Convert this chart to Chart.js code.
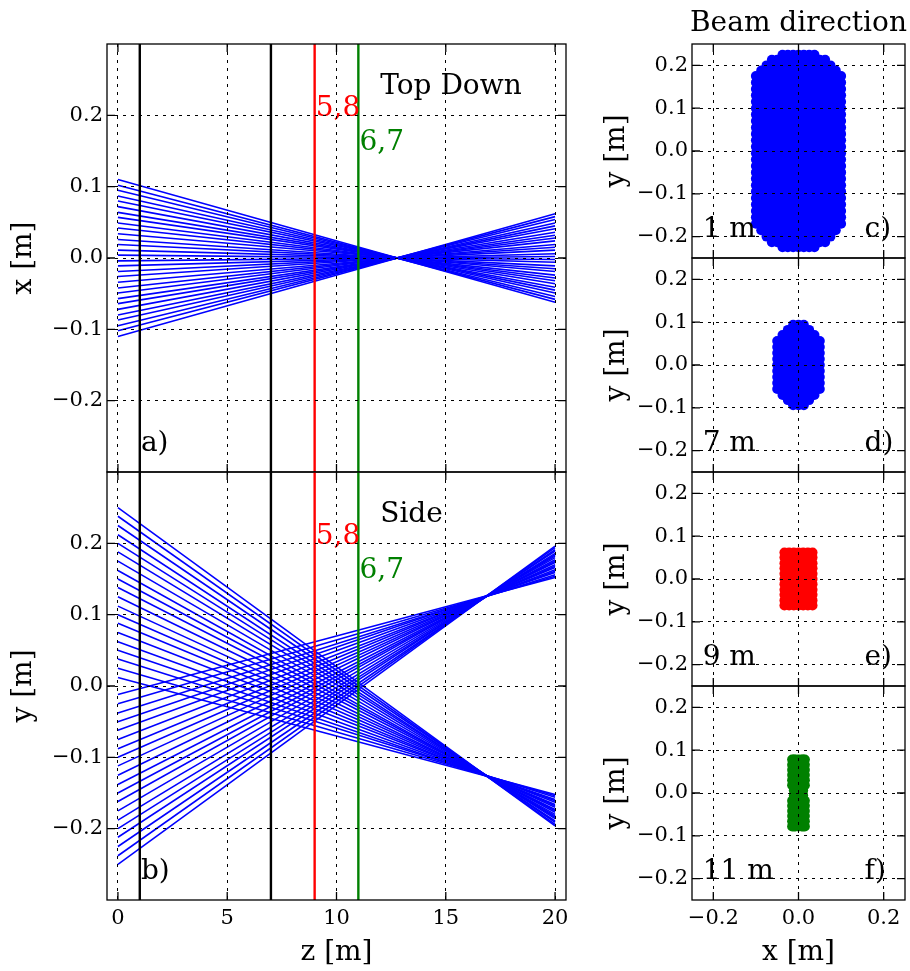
<!DOCTYPE html>
<html>
<head>
<meta charset="utf-8">
<script src="https://cdn.jsdelivr.net/npm/chart.js@4.4.0/dist/chart.umd.min.js"></script>
<style>
  body { margin: 0; background: #fff; width: 910px; height: 971px; position: relative; overflow: hidden; }
  canvas { position: absolute; }
</style>
</head>
<body>
<canvas id="topView"></canvas>
<canvas id="sideView"></canvas>
<canvas id="spot1"></canvas>
<canvas id="spot7"></canvas>
<canvas id="spot9"></canvas>
<canvas id="spot11"></canvas>
<script>
const FONT = '"DejaVu Serif", "Liberation Serif", serif';

// rays are drawn from z = 0 to z = 20 m
const rayZ = [0, 20];

// top down view: x [m] of each ray at z = 0 and at z = 20
const topStart = [0.110, 0.102, 0.095, 0.087, 0.080, 0.072, 0.064, 0.057, 0.049, 0.042, 0.034, 0.026, 0.019, 0.011, 0.004,
  -0.004, -0.011, -0.019, -0.026, -0.034, -0.042, -0.049, -0.057, -0.064, -0.072, -0.080, -0.087, -0.095, -0.102, -0.110];
const topEnd = [-0.062, -0.058, -0.054, -0.049, -0.045, -0.041, -0.036, -0.032, -0.028, -0.024, -0.019, -0.015, -0.011, -0.006, -0.002,
  0.002, 0.006, 0.011, 0.015, 0.019, 0.024, 0.028, 0.032, 0.036, 0.041, 0.045, 0.049, 0.054, 0.058, 0.062];

// side view: y [m] of each ray at z = 0 and z = 20 (rays going down, rays going up)
const sideDownStart = [0.250, 0.238, 0.225, 0.212, 0.200, 0.188, 0.175, 0.162, 0.150, 0.138,
  0.125, 0.112, 0.100, 0.088, 0.075, 0.062, 0.050, 0.038, 0.025, 0.012];
const sideDownEnd = [-0.196, -0.194, -0.191, -0.189, -0.186, -0.184, -0.182, -0.180, -0.177, -0.175,
  -0.173, -0.170, -0.168, -0.166, -0.163, -0.161, -0.159, -0.156, -0.154, -0.152];
const sideUpStart = [-0.250, -0.238, -0.225, -0.212, -0.200, -0.188, -0.175, -0.162, -0.150, -0.138,
  -0.125, -0.112, -0.100, -0.088, -0.075, -0.062, -0.050, -0.038, -0.025, -0.012];
const sideUpEnd = [0.196, 0.194, 0.191, 0.189, 0.186, 0.184, 0.182, 0.180, 0.177, 0.175,
  0.173, 0.170, 0.168, 0.166, 0.163, 0.161, 0.159, 0.156, 0.154, 0.152];

// detector planes
const planeZ = [1, 7, 9, 11];
const planeColor = ['#000000', '#000000', '#ff0000', '#008000'];

// ticks
const zTicks = [0, 5, 10, 15, 20];
const zTickText = ['0', '5', '10', '15', '20'];
const mTicks = [-0.2, -0.1, 0, 0.1, 0.2];
const mTickText = ['\u22120.2', '\u22120.1', '0.0', '0.1', '0.2'];
const beamXTicks = [-0.2, 0, 0.2];
const beamXTickText = ['\u22120.2', '0.0', '0.2'];

// beam spots: column x [m], row y [m], half width of each row [m]
const spot1Cols = [-0.1, -0.0875, -0.075, -0.0625, -0.05, -0.0375, -0.025, -0.0125, 0, 0.0125, 0.025, 0.0375, 0.05, 0.0625, 0.075, 0.0875, 0.1];
const spot1Rows = [0.225, 0.213, 0.200, 0.188, 0.175, 0.160, 0.145, 0.130, 0.115, 0.100, 0.085, 0.070, 0.055, 0.040, 0.025, 0.010,
  -0.005, -0.020, -0.035, -0.050, -0.065, -0.080, -0.095, -0.110, -0.125, -0.140, -0.155, -0.170, -0.185, -0.200, -0.213, -0.225];
const spot1Half = [0.0375, 0.0625, 0.075, 0.0875, 0.1, 0.1, 0.1, 0.1, 0.1, 0.1, 0.1, 0.1, 0.1, 0.1, 0.1, 0.1,
  0.1, 0.1, 0.1, 0.1, 0.1, 0.1, 0.1, 0.1, 0.1, 0.1, 0.1, 0.1, 0.0875, 0.075, 0.0625, 0.0375];

const spot7Cols = [-0.05, -0.0375, -0.025, -0.0125, 0, 0.0125, 0.025, 0.0375, 0.05];
const spot7Rows = [0.094, 0.082, 0.070, 0.056, 0.042, 0.028, 0.014, 0, -0.014, -0.028, -0.042, -0.056, -0.070, -0.082, -0.094];
const spot7Half = [0.0125, 0.025, 0.0375, 0.05, 0.05, 0.05, 0.05, 0.05, 0.05, 0.05, 0.05, 0.05, 0.0375, 0.025, 0.0125];

const spot9Cols = [-0.033, -0.022, -0.011, 0, 0.011, 0.022, 0.033];
const spot9Rows = [0.062, 0.050, 0.037, 0.025, 0.012, 0, -0.012, -0.025, -0.037, -0.050, -0.062];
const spot9Half = [0.033, 0.033, 0.033, 0.033, 0.033, 0.033, 0.033, 0.033, 0.033, 0.033, 0.033];

const spot11Cols = [-0.015, -0.011, -0.0075, 0, 0.0075, 0.011, 0.015];
const spot11Rows = [0.078, 0.066, 0.054, 0.042, 0.030, 0.018, 0.006, -0.006, -0.018, -0.030, -0.042, -0.054, -0.066, -0.078];
const spot11Half = [0.015, 0.015, 0.015, 0.015, 0.015, 0.015, 0.011, 0.011, 0.015, 0.015, 0.015, 0.015, 0.015, 0.015];

function spotPoints(cols, rows, half) {
  const pts = [];
  rows.forEach((y, r) => cols.forEach(x => {
    if (Math.abs(x) <= half[r] + 1e-9) pts.push({x, y});
  }));
  return pts;
}

function rayLines(start, end) {
  return start.map((s, i) => ({
    data: [{x: rayZ[0], y: s}, {x: rayZ[1], y: end[i]}],
    showLine: true, borderColor: '#0000ff', borderWidth: 1.6, pointRadius: 0, order: 1
  }));
}

function planeLines() {
  return planeZ.map((z, i) => ({
    data: [{x: z, y: -0.3}, {x: z, y: 0.3}],
    showLine: true, borderColor: planeColor[i], borderWidth: 2.4, pointRadius: 0, order: 0
  }));
}

// text drawn at data coordinates
const notesPlugin = {
  id: 'notes',
  afterDatasetsDraw(chart, args, opts) {
    const {ctx} = chart;
    const xs = chart.scales.x, ys = chart.scales.y;
    (opts.items || []).forEach(n => {
      ctx.save();
      ctx.font = '28px ' + FONT;
      ctx.fillStyle = n.color || '#000';
      ctx.textAlign = 'left';
      ctx.textBaseline = 'alphabetic';
      ctx.fillText(n.text, xs.getPixelForValue(n.x), ys.getPixelForValue(n.y));
      ctx.restore();
    });
  }
};

// box around the plot with inward ticks
const framePlugin = {
  id: 'frame',
  afterDraw(chart, args, opts) {
    const {ctx, chartArea: a} = chart;
    const xs = chart.scales.x, ys = chart.scales.y;
    ctx.save();
    ctx.strokeStyle = '#000';
    ctx.lineWidth = 1.3;
    ctx.strokeRect(a.left, a.top, a.right - a.left, a.bottom - a.top);
    ctx.beginPath();
    xs.ticks.forEach(t => {
      const p = xs.getPixelForValue(t.value);
      ctx.moveTo(p, a.bottom); ctx.lineTo(p, a.bottom - 8);
      ctx.moveTo(p, a.top); ctx.lineTo(p, a.top + 8);
    });
    ys.ticks.forEach(t => {
      const p = ys.getPixelForValue(t.value);
      ctx.moveTo(a.left, p); ctx.lineTo(a.left + 8, p);
      ctx.moveTo(a.right, p); ctx.lineTo(a.right - 8, p);
    });
    ctx.stroke();
    if (opts.heading) {
      ctx.font = '28px ' + FONT;
      ctx.fillStyle = '#000';
      ctx.textAlign = 'center';
      ctx.textBaseline = 'alphabetic';
      ctx.fillText(opts.heading, (a.left + a.right) / 2, a.top - 13);
    }
    ctx.restore();
  }
};

function axis(pos, ax, size) {
  return {
    type: 'linear', position: pos, min: ax.min, max: ax.max,
    afterBuildTicks: s => { s.ticks = ax.ticks.map(v => ({value: v})); },
    afterFit: s => { if (pos === 'left') s.width = size; else s.height = size; },
    grid: {color: '#000', lineWidth: 1, drawTicks: false, z: 1},
    border: {display: false, dash: [3, 5]},
    ticks: {
      display: ax.labels, padding: pos === 'left' ? 4 : 6, color: '#000', autoSkip: false, maxRotation: 0,
      font: {family: FONT, size: 21}, callback: (v, i) => ax.texts[i]
    },
    title: ax.title ? {
      display: true, text: ax.title, color: '#000', font: {family: FONT, size: 28},
      padding: pos === 'left' ? {top: ax.titlePad, bottom: 0} : {top: 0, bottom: 1}
    } : {display: false}
  };
}

function makeChart(id, box, area, datasets, xAx, yAx, notes, heading) {
  const cv = document.getElementById(id);
  cv.width = box.w; cv.height = box.h;
  cv.style.left = box.x + 'px'; cv.style.top = box.y + 'px';
  return new Chart(cv, {
    type: 'scatter',
    data: {datasets},
    options: {
      responsive: false, animation: false, devicePixelRatio: 1,
      layout: {padding: {left: 0, top: area.top - box.y, right: box.x + box.w - area.right, bottom: 0}},
      plugins: {
        legend: {display: false}, tooltip: {enabled: false},
        notes: {items: notes}, frame: {heading: heading || ''}
      },
      scales: {
        x: axis('bottom', xAx, box.y + box.h - area.bottom),
        y: axis('left', yAx, area.left - box.x)
      }
    },
    plugins: [notesPlugin, framePlugin]
  });
}

const zAxisTop = {min: -0.5, max: 20.5, ticks: zTicks, texts: zTickText, labels: false};
const zAxisBottom = {min: -0.5, max: 20.5, ticks: zTicks, texts: zTickText, labels: true, title: 'z [m]'};

makeChart('topView', {x: 0, y: 0, w: 600, h: 502}, {left: 107, top: 44, right: 566, bottom: 472},
  rayLines(topStart, topEnd).concat(planeLines()),
  zAxisTop,
  {min: -0.3, max: 0.3, ticks: mTicks, texts: mTickText, labels: true, title: 'x [m]', titlePad: 7},
  [
    {text: 'Top Down', x: 12, y: 0.23},
    {text: '5,8', x: 9.05, y: 0.199, color: '#ff0000'},
    {text: '6,7', x: 11.05, y: 0.151, color: '#008000'},
    {text: 'a)', x: 1.05, y: -0.271}
  ]);

makeChart('sideView', {x: 0, y: 440, w: 600, h: 531}, {left: 107, top: 472, right: 566, bottom: 900},
  rayLines(sideDownStart, sideDownEnd).concat(rayLines(sideUpStart, sideUpEnd), planeLines()),
  zAxisBottom,
  {min: -0.3, max: 0.3, ticks: mTicks, texts: mTickText, labels: true, title: 'y [m]', titlePad: 7},
  [
    {text: 'Side', x: 12, y: 0.23},
    {text: '5,8', x: 9.05, y: 0.199, color: '#ff0000'},
    {text: '6,7', x: 11.05, y: 0.151, color: '#008000'},
    {text: 'b)', x: 1.05, y: -0.271}
  ]);

const spotSets = [
  {id: 'spot1', cols: spot1Cols, rows: spot1Rows, half: spot1Half, color: '#0000ff', name: '1 m', tag: 'c)'},
  {id: 'spot7', cols: spot7Cols, rows: spot7Rows, half: spot7Half, color: '#0000ff', name: '7 m', tag: 'd)'},
  {id: 'spot9', cols: spot9Cols, rows: spot9Rows, half: spot9Half, color: '#ff0000', name: '9 m', tag: 'e)'},
  {id: 'spot11', cols: spot11Cols, rows: spot11Rows, half: spot11Half, color: '#008000', name: '11 m', tag: 'f)'}
];
const spotTops = [44, 258, 472, 686];

spotSets.forEach((s, i) => {
  const last = i === spotSets.length - 1;
  const top = spotTops[i];
  const boxTop = i === 0 ? 0 : top - 30;
  const box = {x: 580, y: boxTop, w: 330, h: last ? 971 - boxTop : top - boxTop + 214 + 30};
  makeChart(s.id, box, {left: 692, top: top, right: 906, bottom: top + 214},
    [{data: spotPoints(s.cols, s.rows, s.half), pointRadius: 5, pointBackgroundColor: s.color,
      pointBorderColor: s.color, pointBorderWidth: 0, pointHoverRadius: 5}],
    {min: -0.25, max: 0.25, ticks: beamXTicks, texts: beamXTickText, labels: last, title: last ? 'x [m]' : ''},
    {min: -0.25, max: 0.25, ticks: mTicks, texts: mTickText, labels: true, title: 'y [m]', titlePad: 20},
    [
      {text: s.name, x: -0.225, y: -0.2},
      {text: s.tag, x: 0.155, y: -0.2}
    ],
    i === 0 ? 'Beam direction' : '');
});
</script>
</body>
</html>
